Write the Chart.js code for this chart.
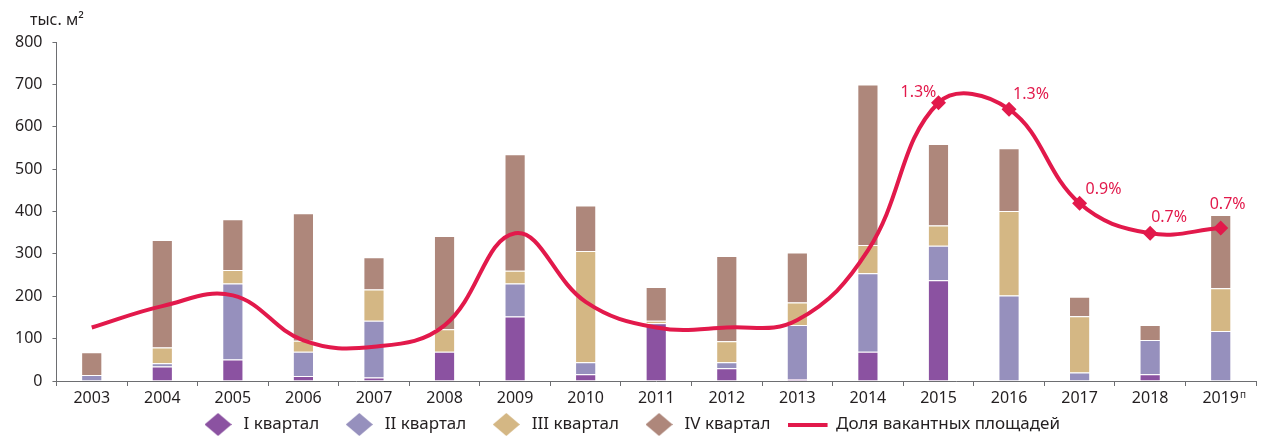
<!DOCTYPE html>
<html lang="ru">
<head>
<meta charset="utf-8">
<script src="https://cdn.jsdelivr.net/npm/chart.js@4.4.0/dist/chart.umd.min.js"></script>
<style>
  html, body { margin: 0; padding: 0; background: #fff; }
  #wrap { position: relative; width: 1272px; height: 437px; }
</style>
</head>
<body>
<div id="wrap"><canvas id="chart"></canvas></div>
<script>
"use strict";

// years on the x axis
const years = ["2003", "2004", "2005", "2006", "2007", "2008", "2009", "2010", "2011",
  "2012", "2013", "2014", "2015", "2016", "2017", "2018", "2019"];

// new supply by quarter, thousand m2
const q1 = [0, 34, 51, 12, 8, 69, 152, 16, 136, 30, 5, 69, 238, 0, 0, 16, 0];
const q2 = [14, 8, 179, 57, 134, 0, 78, 28, 0, 14, 127, 185, 81, 202, 20, 81, 118];
const q3 = [0, 37, 32, 26, 74, 53, 30, 263, 6, 50, 53, 67, 48, 199, 133, 0, 101];
const q4 = [54, 254, 120, 301, 76, 220, 275, 107, 80, 201, 118, 379, 192, 148, 46, 35, 173];

// vacancy rate, %
const vacancy = [0.25, 0.35, 0.40, 0.19, 0.16, 0.26, 0.69, 0.37, 0.25, 0.25, 0.285, 0.61,
  1.30, 1.27, 0.83, 0.69, 0.715];
const vacancyLabels = [null, null, null, null, null, null, null, null, null, null, null, null,
  "1.3%", "1.3%", "0.9%", "0.7%", "0.7%"];

const seriesNames = ["I квартал", "II квартал", "III квартал", "IV квартал", "Доля вакантных площадей"];

const colors = ["#8b52a1", "#9690bd", "#d4b784", "#ae877b"];
const red = "#e2194b";
const textColor = "#231f20";
const fontFamily = "'Noto Sans', 'Open Sans', sans-serif";

// label offsets from the point, px
const labelOffsets = {12: [-38, -10], 13: [4, -15], 14: [6, -14], 15: [1, -16], 16: [-11, -24]};

function diamond(color, w, h) {
  const c = document.createElement("canvas");
  c.width = w;
  c.height = h;
  const g = c.getContext("2d");
  g.fillStyle = color;
  g.beginPath();
  g.moveTo(w / 2, 0);
  g.lineTo(w, h / 2);
  g.lineTo(w / 2, h);
  g.lineTo(0, h / 2);
  g.closePath();
  g.fill();
  return c;
}

// line swatch, drawn in the left part so the text gets some room
function dash(color, w, h, total) {
  const c = document.createElement("canvas");
  c.width = total;
  c.height = h;
  const g = c.getContext("2d");
  g.fillStyle = color;
  g.fillRect(0, 0, w, h);
  return c;
}

const legendIcons = colors.map((c) => diamond(c, 27, 23)).concat([dash(red, 40, 4, 46)]);

const pctLabels = {
  id: "pctLabels",
  afterLayout(chart) {
    // x labels hang into the legend's top padding
    const xs = chart.scales.x;
    xs.bottom = xs.top + 30;
  },
  afterDatasetsDraw(chart) {
    const meta = chart.getDatasetMeta(4);
    const ctx = chart.ctx;
    ctx.save();
    ctx.font = "16px " + fontFamily;
    ctx.fillStyle = red;
    ctx.textBaseline = "middle";
    ctx.textAlign = "left";
    meta.data.forEach((pt, i) => {
      if (!vacancyLabels[i]) return;
      const off = labelOffsets[i] || [0, -16];
      ctx.fillText(vacancyLabels[i], pt.x + off[0], pt.y + off[1]);
    });
    ctx.restore();
  },
  afterDraw(chart) {
    const ctx = chart.ctx;
    ctx.save();
    ctx.fillStyle = textColor;
    ctx.textBaseline = "alphabetic";
    ctx.font = "16px " + fontFamily;
    ctx.fillText("тыс. м²", 30, 25);
    // superscript on the last year
    const xs = chart.scales.x;
    const last = years.length - 1;
    const w = ctx.measureText(years[last]).width;
    ctx.font = "10px " + fontFamily;
    ctx.textBaseline = "top";
    ctx.fillText("п", xs.getPixelForValue(last) + w / 2 + 1, xs.top + 9);
    ctx.restore();
  }
};

const datasets = [q1, q2, q3, q4].map((vals, i) => ({
  type: "bar",
  label: seriesNames[i],
  data: vals,
  backgroundColor: colors[i],
  borderColor: "#ffffff",
  borderWidth: 1,
  stack: "supply",
  order: 1,
  categoryPercentage: 1,
  barPercentage: 0.3
}));

datasets.push({
  type: "line",
  label: seriesNames[4],
  data: vacancy,
  yAxisID: "y2",
  borderColor: red,
  backgroundColor: red,
  borderWidth: 4,
  tension: 0.4,
  fill: false,
  pointStyle: "rectRot",
  pointRadius: vacancy.map((v, i) => (vacancyLabels[i] ? 7.5 : 0)),
  pointBackgroundColor: red,
  pointBorderWidth: 0,
  order: 0
});

new Chart(document.getElementById("chart"), {
  data: { labels: years, datasets: datasets },
  options: {
    responsive: true,
    maintainAspectRatio: false,
    animation: false,
    layout: { padding: { left: 5, right: 16, top: 42, bottom: 0 } },
    plugins: {
      tooltip: { enabled: false },
      legend: {
        position: "bottom",
        maxHeight: 44,
        labels: {
          usePointStyle: true,
          pointStyleWidth: 34,
          padding: 23,
          color: textColor,
          font: { family: fontFamily, size: 17 },
          sort: (a, b) => a.datasetIndex - b.datasetIndex,
          generateLabels(chart) {
            const items = Chart.defaults.plugins.legend.labels.generateLabels(chart);
            items.forEach((it) => { it.pointStyle = legendIcons[it.datasetIndex]; });
            return items;
          }
        }
      }
    },
    scales: {
      x: {
        stacked: true,
        afterFit(scale) { scale.height = 12; },
        grid: { drawOnChartArea: false, tickLength: 5, color: "#6d6e71" },
        border: { color: "#6d6e71", width: 1 },
        ticks: { color: textColor, padding: 3, font: { family: fontFamily, size: 16 } }
      },
      y: {
        stacked: true,
        min: 0,
        max: 800,
        grid: { drawOnChartArea: false, tickLength: 4, color: "#6d6e71" },
        border: { color: "#6d6e71", width: 1 },
        ticks: { stepSize: 100, color: textColor, padding: 10, font: { family: fontFamily, size: 16 } }
      },
      y2: {
        display: false,
        min: 0,
        max: 1.584
      }
    }
  },
  plugins: [pctLabels]
});
</script>
</body>
</html>
